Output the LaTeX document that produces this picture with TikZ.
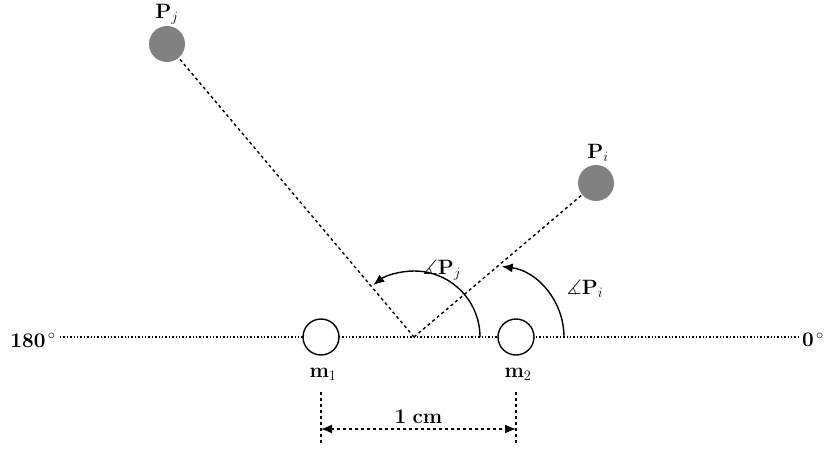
\documentclass[tikz,border=0pt]{standalone}
\usepackage{amssymb}
\usepackage{amsmath}
\usepackage{xcolor}
\usepackage{tikz}
\usetikzlibrary{arrows.meta}
\begin{document}
\begin{tikzpicture}[x=1pt,y=-1pt,font=\huge,line width=1.4pt,
    tip/.style={-{Latex[length=11pt,width=9pt]}}]
  \useasboundingbox (0,0) rectangle (830,464);
  \draw[dotted] (60,337) -- (800,337);
  \node (d180) at (33,340) {$\mathbf{180}^{\,\circ}$};
  \node (d0) at (813,340) {$\mathbf{0}^{\,\circ}$};
  \coordinate (o) at (414,337);
  \node[circle,draw,fill=white,minimum size=36] (m1) at (321,337) {};
  \node[circle,draw,fill=white,minimum size=36] (m2) at (516,337) {};
  \node[circle,fill=gray,minimum size=36] (pj) at (167,44) {};
  \node[circle,fill=gray,minimum size=36] (pi) at (596,183) {};
  \node (lpj) at (167,14) {$\mathbf{P}_j$};
  \node (lpi) at (598,153) {$\mathbf{P}_i$};
  \draw[dashed] (o) -- (pj);
  \draw[dashed] (o) -- (pi);
  \draw[tip] (480,337) arc[start angle=0,end angle=-128,radius=66];
  \draw[tip] (564,337) arc[start angle=0,end angle=-83,radius=71];
  \node (aj) at (442,270) {$\measuredangle\mathbf{P}_j$};
  \node (ai) at (585,289) {$\measuredangle\mathbf{P}_i$};
  \node (lm1) at (323,374) {$\mathbf{m}_1$};
  \node (lm2) at (518,374) {$\mathbf{m}_2$};
  \draw[dashed] (321,392) -- (321,445);
  \draw[dashed] (516,392) -- (516,445);
  \draw[dashed,{Latex[length=11pt,width=9pt]}-{Latex[length=11pt,width=9pt]}] (321,429) -- node[above=1] {$\mathbf{1\ cm}$} (516,429);
\end{tikzpicture}
\end{document}
